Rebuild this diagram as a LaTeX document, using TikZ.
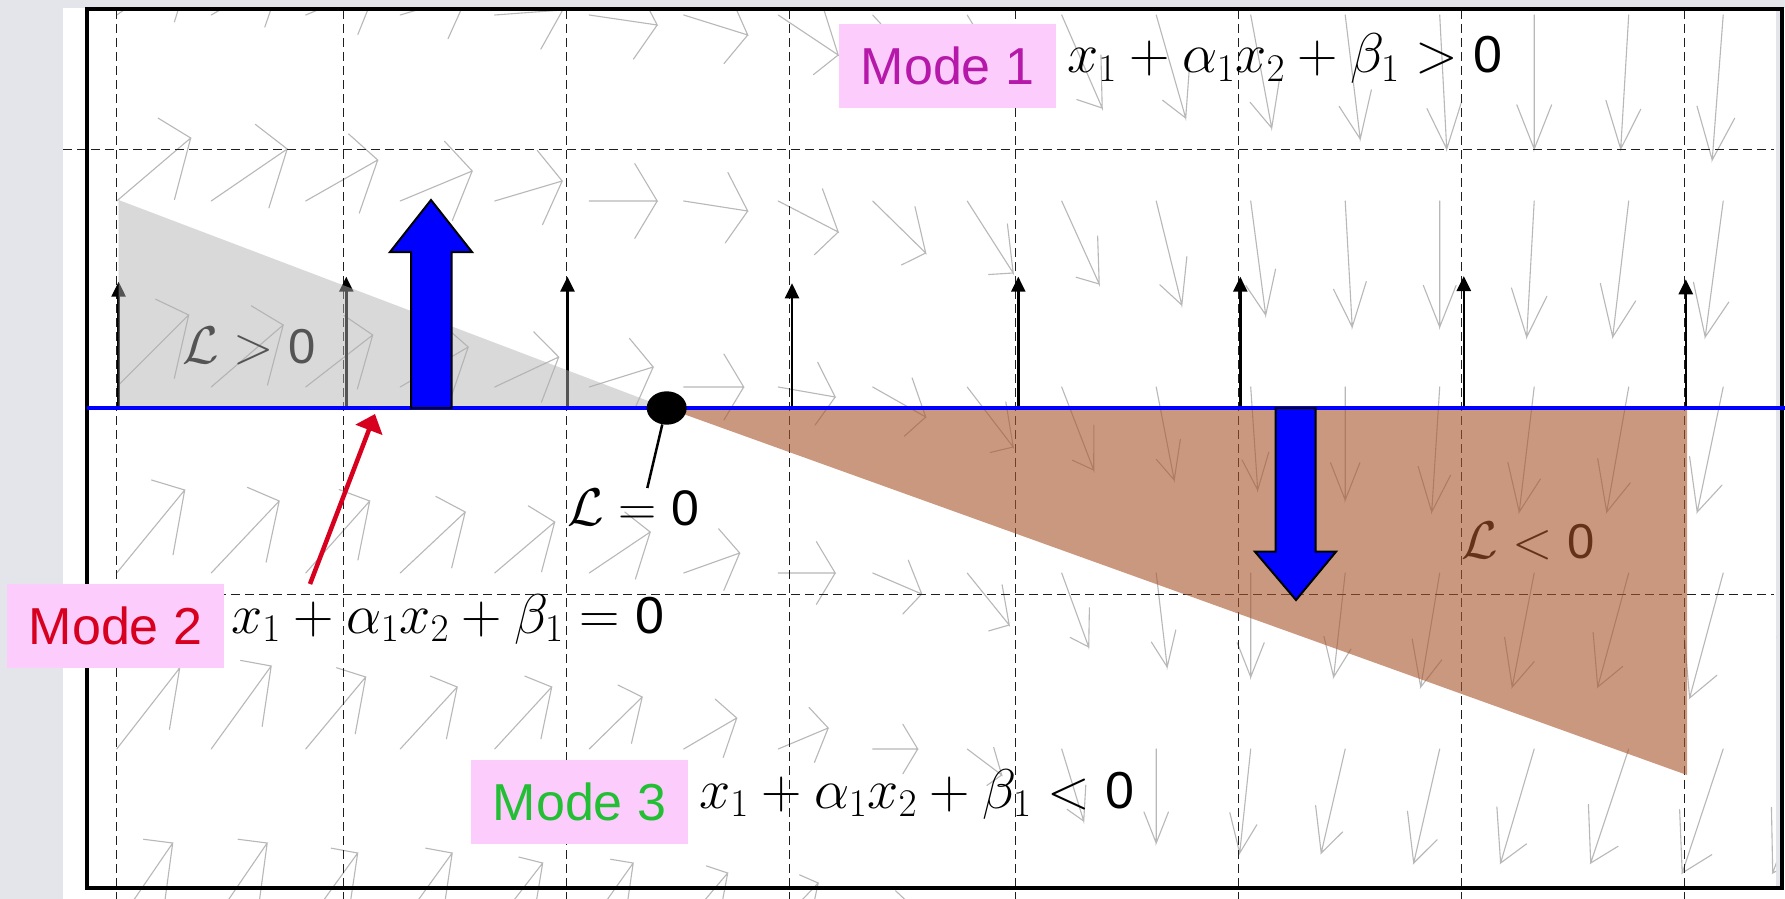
\RequirePackage{fix-cm}
\documentclass[tikz,border=0pt]{standalone}
\usepackage{fontspec}
\newfontfamily\modefont{Liberation Sans}
\usetikzlibrary{arrows.meta,shapes.geometric}
\definecolor{bgc}{RGB}{228,229,234}
\definecolor{pinkc}{RGB}{252,204,252}
\definecolor{mode1c}{RGB}{182,24,170}
\definecolor{mode2c}{RGB}{215,0,30}
\definecolor{mode3c}{RGB}{34,190,52}
\definecolor{grayov}{RGB}{176,176,176}
\definecolor{brownov}{RGB}{168,83,43}
\definecolor{qcol}{RGB}{184,184,184}
\newcommand\qarrow[4]{%
  \pgfmathsetmacro\qx{116.7+94.5*#1}%
  \draw[qv] (\qx,#2) -- ++(#3,#4) coordinate (qtip)
     -- ++({-0.33*(#3)+0.13*(#4)},{-0.33*(#4)-0.55*(#3)})
     (qtip) -- ++({-0.33*(#3)-0.13*(#4)},{-0.33*(#4)+0.55*(#3)});%
}
\newcommand\zerof[1]{\mbox{\modefont\fontsize{#1}{#1}\selectfont 0}}
\begin{document}
\begin{tikzpicture}[x=1pt,y=-1pt,
  qv/.style={draw=qcol, line width=1.1pt, line cap=round, line join=miter},
  gridline/.style={draw=black!88, line width=1.2pt, dash pattern=on 9pt off 5pt},
  uparrow/.style={-{Triangle[length=15pt,width=14pt]}, line width=2.5pt},
  modebox/.style={fill=pinkc, minimum width=217pt, minimum height=84pt, inner sep=0pt,
     font=\modefont\fontsize{52}{60}\selectfont},
  formula/.style={inner sep=0pt, anchor=base west, font=\fontsize{56}{64}\selectfont},
  lab/.style={inner sep=0pt, anchor=base west, font=\fontsize{53}{60}\selectfont},
  bluearrow/.style={fill=blue, draw=black, line width=2pt, line join=miter}]
\useasboundingbox (0,0) rectangle (1785,899);
\fill[bgc] (0,0) rectangle (1785,899);
\fill[white] (63,8) rectangle (1785,899);
\fill[bgc] (1776,9) rectangle (1780,888);
% quiver field
\begin{scope}
\clip (87,10) rectangle (1776,899);
\foreach[count=\k from 0] \dx/\dy in {76/-52, 72/-41, 72/-30, 67.5/-20, 68/-5, 68/10, 64/20, 60/40, 53/58, 46/76, 40.5/93, 29.5/103, 21/113, 15/124, 7/134, 0/134, -8/134, -11/145, -15/145}
  {\qarrow{\k}{15}{\dx}{\dy}}
\foreach[count=\k from 0] \dx/\dy in {74/-63, 76/-52, 72/-41, 72/-30, 67.5/-20, 68/0, 64/10, 60/31, 53/52, 46/72, 37.5/83, 25.6/104, 15/114, 7/126, 0/126, -7.5/136, -16/136, -18/136, -22/145}
  {\qarrow{\k}{201}{\dx}{\dy}}
\foreach[count=\k from 0] \dx/\dy in {72/-72, 72/-62, 67/-52, 68/-40, 64/-30, 64/-20, 60/0, 57/10, 53/30, 46/60, 32/83, 18/93, 7/103, 0/113, -8/125, -15/125, -22/125, -26/125, -30/135}
  {\qarrow{\k}{387}{\dx}{\dy}}
\foreach[count=\k from 0] \dx/\dy in {68/-83, 68/-72, 64/-72, 65/-61, 60/-51, 61/-41, 56/-20, 57/0, 49/21, 42/52, 27/74, 11/94, 0/104, -11.6/104, -19/114, -22/114, -31/114, -33.6/125, -37/125}
  {\qarrow{\k}{573}{\dx}{\dy}}
\foreach[count=\k from 0] \dx/\dy in {63/-81, 60/-83, 60/-72, 57/-62, 57/-62, 53/-52, 53/-31, 50/-21, 45/0, 34.5/26, 22/72, 0/94, -11/104, -24/104, -26/114, -33.6/114, -38/114, -41/124, -45/124}
  {\qarrow{\k}{749}{\dx}{\dy}}
\foreach[count=\k from 0] \dx/\dy in {56/-82, 56/-82, 52/-72, 52/-72, 48/-62, 44/-62, 44/-52, 40/-42, 38/-20, 30/0, 15/40, 0/80, -15/94, -25/104, -30/104, -35/114, -40/114, -45/124, -48/124}
  {\qarrow{\k}{925}{\dx}{\dy}}
\end{scope}
% dashed grid
\foreach \x in {116.6,343.4,566.3,789.5,1015.7,1238.7,1461.7,1684.6}
  \draw[gridline] (\x,10) -- (\x,899);
\foreach \y in {149.3,594.3}
  \draw[gridline] (63,\y) -- (1774,\y);
% small black arrows on the switching line
\foreach \x/\t in {118.6/281.7, 346.3/276.7, 567.5/276.7, 792/283.3, 1018.3/276.7, 1240.3/276.7, 1463.8/276, 1685.8/279.3}
  \draw[uparrow] (\x,408) -- (\x,\t);
% labels under the shaded overlays
\node[lab] (lpos) at (182,363) {$\mathcal{L}>\zerof{49}$};
\node[lab] (lneg) at (1461,558) {$\mathcal{L}<\zerof{49}$};
% shaded regions
\fill[grayov, fill opacity=0.48] (118.6,200) -- (118.6,408) -- (666.7,408) -- cycle;
\fill[brownov, fill opacity=0.6] (666.7,408) -- (1687,408) -- (1687,775) -- cycle;
% frame
\draw[line width=4pt] (87,9) rectangle (1782,888);
% switching line
\draw[blue, line width=3.8pt] (87,408) -- (1785,408);
% big blue arrows
\draw[bluearrow] (411,408) -- (411,252) -- (390,252) -- (431,200) -- (472,252) -- (451.6,252) -- (451.6,408) -- cycle;
\draw[bluearrow] (1275.7,408) -- (1275.7,551.7) -- (1255,551.7) -- (1296,600) -- (1336,551.7) -- (1315.7,551.7) -- (1315.7,408) -- cycle;
% equilibrium point and its label
\node[ellipse, fill=black, minimum width=40pt, minimum height=33.4pt, inner sep=0pt] (dot) at (666.7,408) {};
\node[lab] (lzero) at (567,525) {$\mathcal{L}=\zerof{50}$};
\coordinate (pz) at (647.3,488);
\draw[line width=2.5pt] (dot.-105) -- (pz);
% mode boxes
\node[modebox, text=mode1c] (m1) at (947.5,66) {Mode 1};
\node[modebox, text=mode2c] (m2) at (115.5,626) {Mode 2};
\node[modebox, text=mode3c] (m3) at (579.5,801.5) {Mode 3};
% formulas
\node[formula] (f1) at (1067,73) {$x_1+\alpha_1x_2+\beta_1>\zerof{52}$};
\node[formula] (f2) at (231,633) {$x_1+\alpha_1x_2+\beta_1=\zerof{52}$};
\node[formula] (f3) at (699,808) {$x_1+\alpha_1x_2+\beta_1<\zerof{52}$};
% red pointer
\coordinate (rs) at (310,584);
\coordinate (rt) at (375,414);
\draw[mode2c, line width=4.5pt, -{Triangle[length=17pt,width=28pt]}] (rs) -- (rt);
\end{tikzpicture}
\end{document}
